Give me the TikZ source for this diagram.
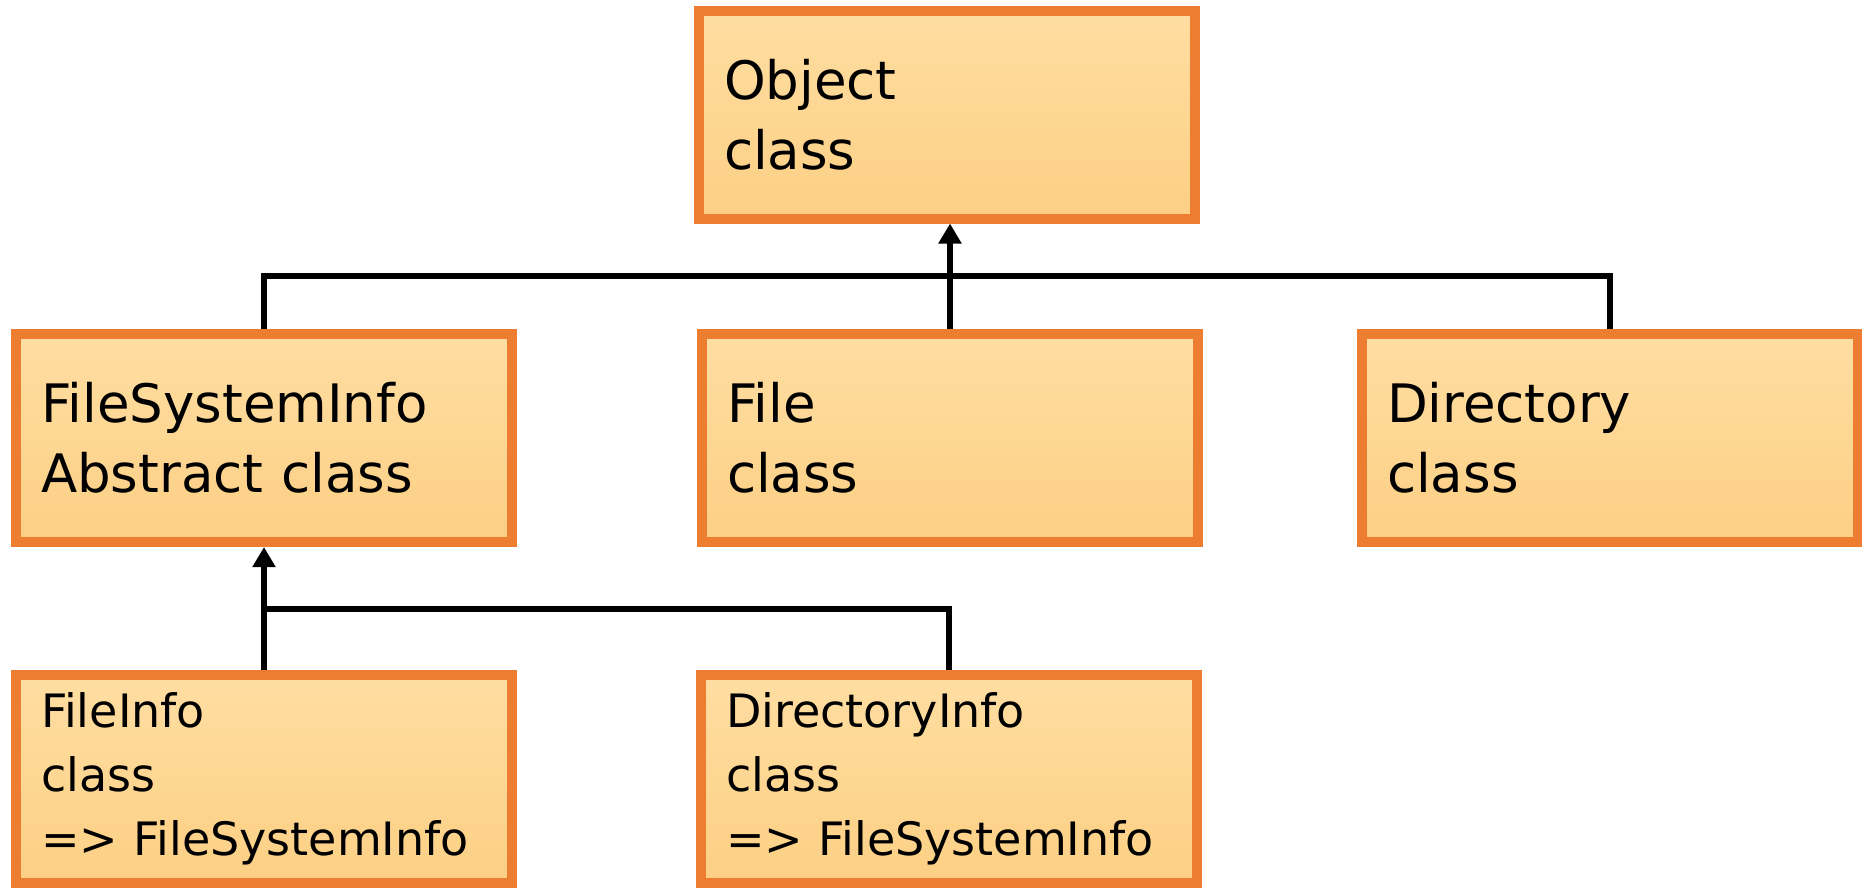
\documentclass[tikz,border=0pt]{standalone}
\usepackage{fontspec}
\setmainfont{DejaVu Sans}
\usetikzlibrary{arrows.meta}
\hyphenpenalty=10000
\exhyphenpenalty=10000
\definecolor{boxline}{RGB}{237,125,49}
\definecolor{boxtop}{RGB}{255,222,162}
\definecolor{boxbot}{RGB}{252,207,132}
\tikzset{
  classbox/.style={draw=boxline,line width=5pt,top color=boxtop,bottom color=boxbot,
    rectangle,minimum width=246pt,minimum height=104pt,inner xsep=12.5pt,
    text width=223pt,align=left,font=\fontsize{26.5}{35}\selectfont},
  subbox/.style={classbox,font=\fontsize{23}{32}\selectfont},
  link/.style={line width=3.2pt,black}
}
\begin{document}
\begin{tikzpicture}[x=0.5pt,y=-0.5pt,>={Triangle[length=10pt,width=11pt]}]
                \useasboundingbox (0,0) rectangle (1862,889);
                \coordinate (topbus) at (0,276);
                \coordinate (lowbus) at (0,609);
                \node[classbox] (obj) at (947,114.5) {Object\\class};
                \node[classbox] (fsi) at (264,438) {FileSystemInfo\\Abstract class};
                \node[classbox] (file) at (950,438) {File\\class};
                \node[classbox] (dir) at (1610,438) {Directory\\class};
                \node[subbox] (finfo) at (264,778.5) {FileInfo\\class\\=> FileSystemInfo};
                \node[subbox] (dinfo) at (949,778.5) {DirectoryInfo\\class\\=> FileSystemInfo};
                \draw[link] (fsi.north) |- (topbus -| dir.north) -- (dir.north);
                \draw[link,->] (file.north) -- (file.north |- obj.south);
                \draw[link,->] (finfo.north) -- (fsi.south);
                \draw[link] (dinfo.north) |- (lowbus -| finfo.north);
            \end{tikzpicture}
\end{document}
